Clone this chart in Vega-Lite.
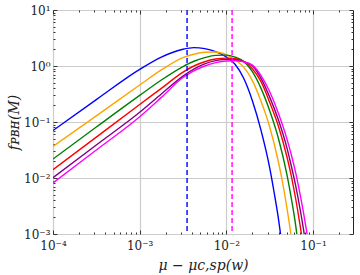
{
  "$schema": "https://vega.github.io/schema/vega-lite/v6.json",
  "width": 300,
  "height": 224,
  "autosize": {"type": "none"},
  "padding": {"left": 53, "top": 10, "right": 7, "bottom": 41},
  "background": "white",
  "config": {
    "font": "DejaVu Serif",
    "view": {"stroke": "#222222", "strokeWidth": 1},
    "axis": {
      "labelFont": "DejaVu Serif",
      "titleFont": "DejaVu Serif",
      "labelFontSize": 12,
      "titleFontSize": 13,
      "titleFontWeight": "normal",
      "labelColor": "#222222",
      "titleColor": "#222222",
      "tickColor": "#333333",
      "domain": false,
      "labelFlush": false
    }
  },
  "datasets": {
    "curves": [
      {"s": "blue", "x": 0.0001, "y": 0.0705},
      {"s": "blue", "x": 0.000316, "y": 0.2512},
      {"s": "blue", "x": 0.001, "y": 0.871},
      {"s": "blue", "x": 0.001778, "y": 1.445},
      {"s": "blue", "x": 0.003162, "y": 1.995},
      {"s": "blue", "x": 0.004217, "y": 2.128},
      {"s": "blue", "x": 0.005623, "y": 2.042},
      {"s": "blue", "x": 0.007499, "y": 1.799},
      {"s": "blue", "x": 0.01, "y": 1.445},
      {"s": "blue", "x": 0.012589, "y": 1.072},
      {"s": "blue", "x": 0.015849, "y": 0.6026},
      {"s": "blue", "x": 0.019953, "y": 0.2399},
      {"s": "blue", "x": 0.025119, "y": 0.0708},
      {"s": "blue", "x": 0.031623, "y": 0.01514},
      {"s": "blue", "x": 0.035481, "y": 0.005623},
      {"s": "blue", "x": 0.039811, "y": 0.001905},
      {"s": "blue", "x": 0.044668, "y": 0.000501},

      {"s": "orange", "x": 0.0001, "y": 0.0366},
      {"s": "orange", "x": 0.000316, "y": 0.1288},
      {"s": "orange", "x": 0.001, "y": 0.4571},
      {"s": "orange", "x": 0.001778, "y": 0.8511},
      {"s": "orange", "x": 0.003162, "y": 1.4125},
      {"s": "orange", "x": 0.004217, "y": 1.6218},
      {"s": "orange", "x": 0.005623, "y": 1.7579},
      {"s": "orange", "x": 0.007499, "y": 1.7783},
      {"s": "orange", "x": 0.01, "y": 1.5849},
      {"s": "orange", "x": 0.012589, "y": 1.2882},
      {"s": "orange", "x": 0.015849, "y": 0.955},
      {"s": "orange", "x": 0.019953, "y": 0.5495},
      {"s": "orange", "x": 0.025119, "y": 0.2344},
      {"s": "orange", "x": 0.031623, "y": 0.08128},
      {"s": "orange", "x": 0.039811, "y": 0.0195},
      {"s": "orange", "x": 0.044668, "y": 0.008128},
      {"s": "orange", "x": 0.050119, "y": 0.002818},
      {"s": "orange", "x": 0.056234, "y": 0.000851},
      {"s": "orange", "x": 0.060256, "y": 0.000355},

      {"s": "green", "x": 0.0001, "y": 0.02183},
      {"s": "green", "x": 0.000316, "y": 0.08128},
      {"s": "green", "x": 0.001, "y": 0.2985},
      {"s": "green", "x": 0.001778, "y": 0.5623},
      {"s": "green", "x": 0.003162, "y": 0.9772},
      {"s": "green", "x": 0.004217, "y": 1.2162},
      {"s": "green", "x": 0.005623, "y": 1.4125},
      {"s": "green", "x": 0.007499, "y": 1.5488},
      {"s": "green", "x": 0.01, "y": 1.5668},
      {"s": "green", "x": 0.012589, "y": 1.4454},
      {"s": "green", "x": 0.015849, "y": 1.2023},
      {"s": "green", "x": 0.019953, "y": 0.7943},
      {"s": "green", "x": 0.025119, "y": 0.3981},
      {"s": "green", "x": 0.031623, "y": 0.1585},
      {"s": "green", "x": 0.039811, "y": 0.05129},
      {"s": "green", "x": 0.050119, "y": 0.01122},
      {"s": "green", "x": 0.056234, "y": 0.004266},
      {"s": "green", "x": 0.063096, "y": 0.001413},
      {"s": "green", "x": 0.069183, "y": 0.000447},

      {"s": "red", "x": 0.0001, "y": 0.01406},
      {"s": "red", "x": 0.000316, "y": 0.0537},
      {"s": "red", "x": 0.001, "y": 0.2056},
      {"s": "red", "x": 0.001778, "y": 0.3981},
      {"s": "red", "x": 0.003162, "y": 0.7762},
      {"s": "red", "x": 0.004217, "y": 1.0},
      {"s": "red", "x": 0.005623, "y": 1.1912},
      {"s": "red", "x": 0.007499, "y": 1.3305},
      {"s": "red", "x": 0.01, "y": 1.3804},
      {"s": "red", "x": 0.012589, "y": 1.349},
      {"s": "red", "x": 0.015849, "y": 1.2162},
      {"s": "red", "x": 0.019953, "y": 0.8913},
      {"s": "red", "x": 0.025119, "y": 0.5248},
      {"s": "red", "x": 0.031623, "y": 0.2239},
      {"s": "red", "x": 0.039811, "y": 0.08511},
      {"s": "red", "x": 0.050119, "y": 0.02344},
      {"s": "red", "x": 0.056234, "y": 0.01072},
      {"s": "red", "x": 0.063096, "y": 0.004217},
      {"s": "red", "x": 0.070795, "y": 0.001445},
      {"s": "red", "x": 0.075858, "y": 0.000708},
      {"s": "red", "x": 0.079433, "y": 0.000398},

      {"s": "purple", "x": 0.0001, "y": 0.01012},
      {"s": "purple", "x": 0.000316, "y": 0.0389},
      {"s": "purple", "x": 0.001, "y": 0.1489},
      {"s": "purple", "x": 0.001778, "y": 0.3162},
      {"s": "purple", "x": 0.003162, "y": 0.6607},
      {"s": "purple", "x": 0.004217, "y": 0.881},
      {"s": "purple", "x": 0.005623, "y": 1.0889},
      {"s": "purple", "x": 0.007499, "y": 1.2445},
      {"s": "purple", "x": 0.01, "y": 1.3152},
      {"s": "purple", "x": 0.012589, "y": 1.2942},
      {"s": "purple", "x": 0.015849, "y": 1.1967},
      {"s": "purple", "x": 0.019953, "y": 1.0},
      {"s": "purple", "x": 0.025119, "y": 0.6026},
      {"s": "purple", "x": 0.031623, "y": 0.278},
      {"s": "purple", "x": 0.039811, "y": 0.1096},
      {"s": "purple", "x": 0.050119, "y": 0.03388},
      {"s": "purple", "x": 0.056234, "y": 0.01622},
      {"s": "purple", "x": 0.063096, "y": 0.007244},
      {"s": "purple", "x": 0.070795, "y": 0.002818},
      {"s": "purple", "x": 0.079433, "y": 0.000955},
      {"s": "purple", "x": 0.083176, "y": 0.000562},

      {"s": "magenta", "x": 0.0001, "y": 0.008147},
      {"s": "magenta", "x": 0.000316, "y": 0.03162},
      {"s": "magenta", "x": 0.001, "y": 0.1239},
      {"s": "magenta", "x": 0.001778, "y": 0.2754},
      {"s": "magenta", "x": 0.003162, "y": 0.6223},
      {"s": "magenta", "x": 0.004217, "y": 0.8166},
      {"s": "magenta", "x": 0.005623, "y": 1.0},
      {"s": "magenta", "x": 0.007499, "y": 1.1482},
      {"s": "magenta", "x": 0.01, "y": 1.2303},
      {"s": "magenta", "x": 0.012589, "y": 1.2417},
      {"s": "magenta", "x": 0.015849, "y": 1.183},
      {"s": "magenta", "x": 0.019953, "y": 1.0351},
      {"s": "magenta", "x": 0.025119, "y": 0.673},
      {"s": "magenta", "x": 0.031623, "y": 0.3467},
      {"s": "magenta", "x": 0.039811, "y": 0.1429},
      {"s": "magenta", "x": 0.050119, "y": 0.04898},
      {"s": "magenta", "x": 0.056234, "y": 0.0257},
      {"s": "magenta", "x": 0.063096, "y": 0.0123},
      {"s": "magenta", "x": 0.070795, "y": 0.005129},
      {"s": "magenta", "x": 0.079433, "y": 0.00195},
      {"s": "magenta", "x": 0.087096, "y": 0.000813},
      {"s": "magenta", "x": 0.091201, "y": 0.000501}
    ],
    "vlines": [
      {"s": "blue", "x": 0.00352},
      {"s": "magenta", "x": 0.01164}
    ]
  },
  "layer": [
    {
      "data": {"name": "curves"},
      "transform": [{"filter": "datum.s == 'blue'"}],
      "mark": {"type": "line", "color": "#0000ff", "strokeWidth": 1.4, "clip": true, "interpolate": "monotone"},
      "encoding": {
        "x": {"field": "x", "type": "quantitative",
          "scale": {"type": "log", "domain": [0.0001, 0.289], "nice": false},
          "axis": {"orient": "bottom", "title": "μ − μc,sp(w)", "titleFontStyle": "italic", "titleFontSize": 14, "titlePadding": 7,
            "values": [0.0001, 0.001, 0.01, 0.1], "grid": true, "gridColor": "#cccccc", "gridWidth": 1.2,
            "tickSize": -4, "labelPadding": 10,
            "labelExpr": "datum.value < 0.00015 ? '10⁻⁴' : datum.value < 0.0015 ? '10⁻³' : datum.value < 0.015 ? '10⁻²' : datum.value < 0.15 ? '10⁻¹' : datum.value < 1.5 ? '10⁰' : '10¹'"}},
        "y": {"field": "y", "type": "quantitative",
          "scale": {"type": "log", "domain": [0.001, 10], "nice": false},
          "axis": {"orient": "left", "title": "fᴘʙʜ(M)", "titleFontStyle": "italic", "titleFontSize": 14, "titlePadding": 2,
            "values": [0.001, 0.01, 0.1, 1, 10], "grid": true, "gridColor": "#cccccc", "gridWidth": 1.2,
            "tickSize": -4, "labelPadding": 7,
            "labelExpr": "datum.value < 0.0015 ? '10⁻³' : datum.value < 0.015 ? '10⁻²' : datum.value < 0.15 ? '10⁻¹' : datum.value < 1.5 ? '10⁰' : '10¹'"}}
      }
    },
    {
      "data": {"name": "curves"},
      "transform": [{"filter": "datum.s == 'orange'"}],
      "mark": {"type": "line", "color": "#ffa500", "strokeWidth": 1.4, "clip": true, "interpolate": "monotone"},
      "encoding": {
        "x": {"field": "x", "type": "quantitative",
          "scale": {"type": "log", "domain": [0.0001, 0.289], "nice": false},
          "axis": {"orient": "bottom", "title": null, "labels": false, "grid": false, "tickSize": -2,
            "values": [0.0002, 0.0003, 0.0004, 0.0005, 0.0006, 0.0007, 0.0008, 0.0009, 0.002, 0.003, 0.004, 0.005, 0.006, 0.007, 0.008, 0.009, 0.02, 0.03, 0.04, 0.05, 0.06, 0.07, 0.08, 0.09, 0.2]}},
        "y": {"field": "y", "type": "quantitative",
          "scale": {"type": "log", "domain": [0.001, 10], "nice": false},
          "axis": {"orient": "left", "title": null, "labels": false, "grid": false, "tickSize": -2,
            "values": [0.002, 0.003, 0.004, 0.005, 0.006, 0.007, 0.008, 0.009, 0.02, 0.03, 0.04, 0.05, 0.06, 0.07, 0.08, 0.09, 0.2, 0.3, 0.4, 0.5, 0.6, 0.7, 0.8, 0.9, 2, 3, 4, 5, 6, 7, 8, 9]}}
      }
    },
    {
      "data": {"name": "curves"},
      "transform": [{"filter": "datum.s == 'green'"}],
      "mark": {"type": "line", "color": "#008000", "strokeWidth": 1.4, "clip": true, "interpolate": "monotone"},
      "encoding": {
        "x": {"field": "x", "type": "quantitative",
          "scale": {"type": "log", "domain": [0.0001, 0.289], "nice": false},
          "axis": {"orient": "top", "title": null, "labels": false, "grid": false, "tickSize": -4,
            "values": [0.0001, 0.001, 0.01, 0.1]}},
        "y": {"field": "y", "type": "quantitative",
          "scale": {"type": "log", "domain": [0.001, 10], "nice": false},
          "axis": {"orient": "right", "title": null, "labels": false, "grid": false, "tickSize": -4,
            "values": [0.001, 0.01, 0.1, 1, 10]}}
      }
    },
    {
      "data": {"name": "curves"},
      "transform": [{"filter": "datum.s == 'red'"}],
      "mark": {"type": "line", "color": "#ff0000", "strokeWidth": 1.4, "clip": true, "interpolate": "monotone"},
      "encoding": {
        "x": {"field": "x", "type": "quantitative",
          "scale": {"type": "log", "domain": [0.0001, 0.289], "nice": false},
          "axis": {"orient": "top", "title": null, "labels": false, "grid": false, "tickSize": -2,
            "values": [0.0002, 0.0003, 0.0004, 0.0005, 0.0006, 0.0007, 0.0008, 0.0009, 0.002, 0.003, 0.004, 0.005, 0.006, 0.007, 0.008, 0.009, 0.02, 0.03, 0.04, 0.05, 0.06, 0.07, 0.08, 0.09, 0.2]}},
        "y": {"field": "y", "type": "quantitative",
          "scale": {"type": "log", "domain": [0.001, 10], "nice": false},
          "axis": {"orient": "right", "title": null, "labels": false, "grid": false, "tickSize": -2,
            "values": [0.002, 0.003, 0.004, 0.005, 0.006, 0.007, 0.008, 0.009, 0.02, 0.03, 0.04, 0.05, 0.06, 0.07, 0.08, 0.09, 0.2, 0.3, 0.4, 0.5, 0.6, 0.7, 0.8, 0.9, 2, 3, 4, 5, 6, 7, 8, 9]}}
      }
    },
    {
      "data": {"name": "curves"},
      "transform": [{"filter": "datum.s == 'purple'"}],
      "mark": {"type": "line", "color": "#800080", "strokeWidth": 1.4, "clip": true, "interpolate": "monotone"},
      "encoding": {
        "x": {"field": "x", "type": "quantitative", "scale": {"type": "log", "domain": [0.0001, 0.289], "nice": false}, "axis": null},
        "y": {"field": "y", "type": "quantitative", "scale": {"type": "log", "domain": [0.001, 10], "nice": false}, "axis": null}
      }
    },
    {
      "data": {"name": "curves"},
      "transform": [{"filter": "datum.s == 'magenta'"}],
      "mark": {"type": "line", "color": "#ff00ff", "strokeWidth": 1.4, "clip": true, "interpolate": "monotone"},
      "encoding": {
        "x": {"field": "x", "type": "quantitative", "scale": {"type": "log", "domain": [0.0001, 0.289], "nice": false}, "axis": null},
        "y": {"field": "y", "type": "quantitative", "scale": {"type": "log", "domain": [0.001, 10], "nice": false}, "axis": null}
      }
    },
    {
      "data": {"name": "vlines"},
      "mark": {"type": "rule", "strokeWidth": 1.4, "strokeDash": [5, 3]},
      "encoding": {
        "x": {"field": "x", "type": "quantitative", "scale": {"type": "log", "domain": [0.0001, 0.289], "nice": false}, "axis": null},
        "color": {"field": "s", "type": "nominal", "scale": {"domain": ["blue", "magenta"], "range": ["#0000ff", "#ff00ff"]}, "legend": null}
      }
    }
  ],
  "resolve": {"axis": {"x": "independent", "y": "independent"}}
}
